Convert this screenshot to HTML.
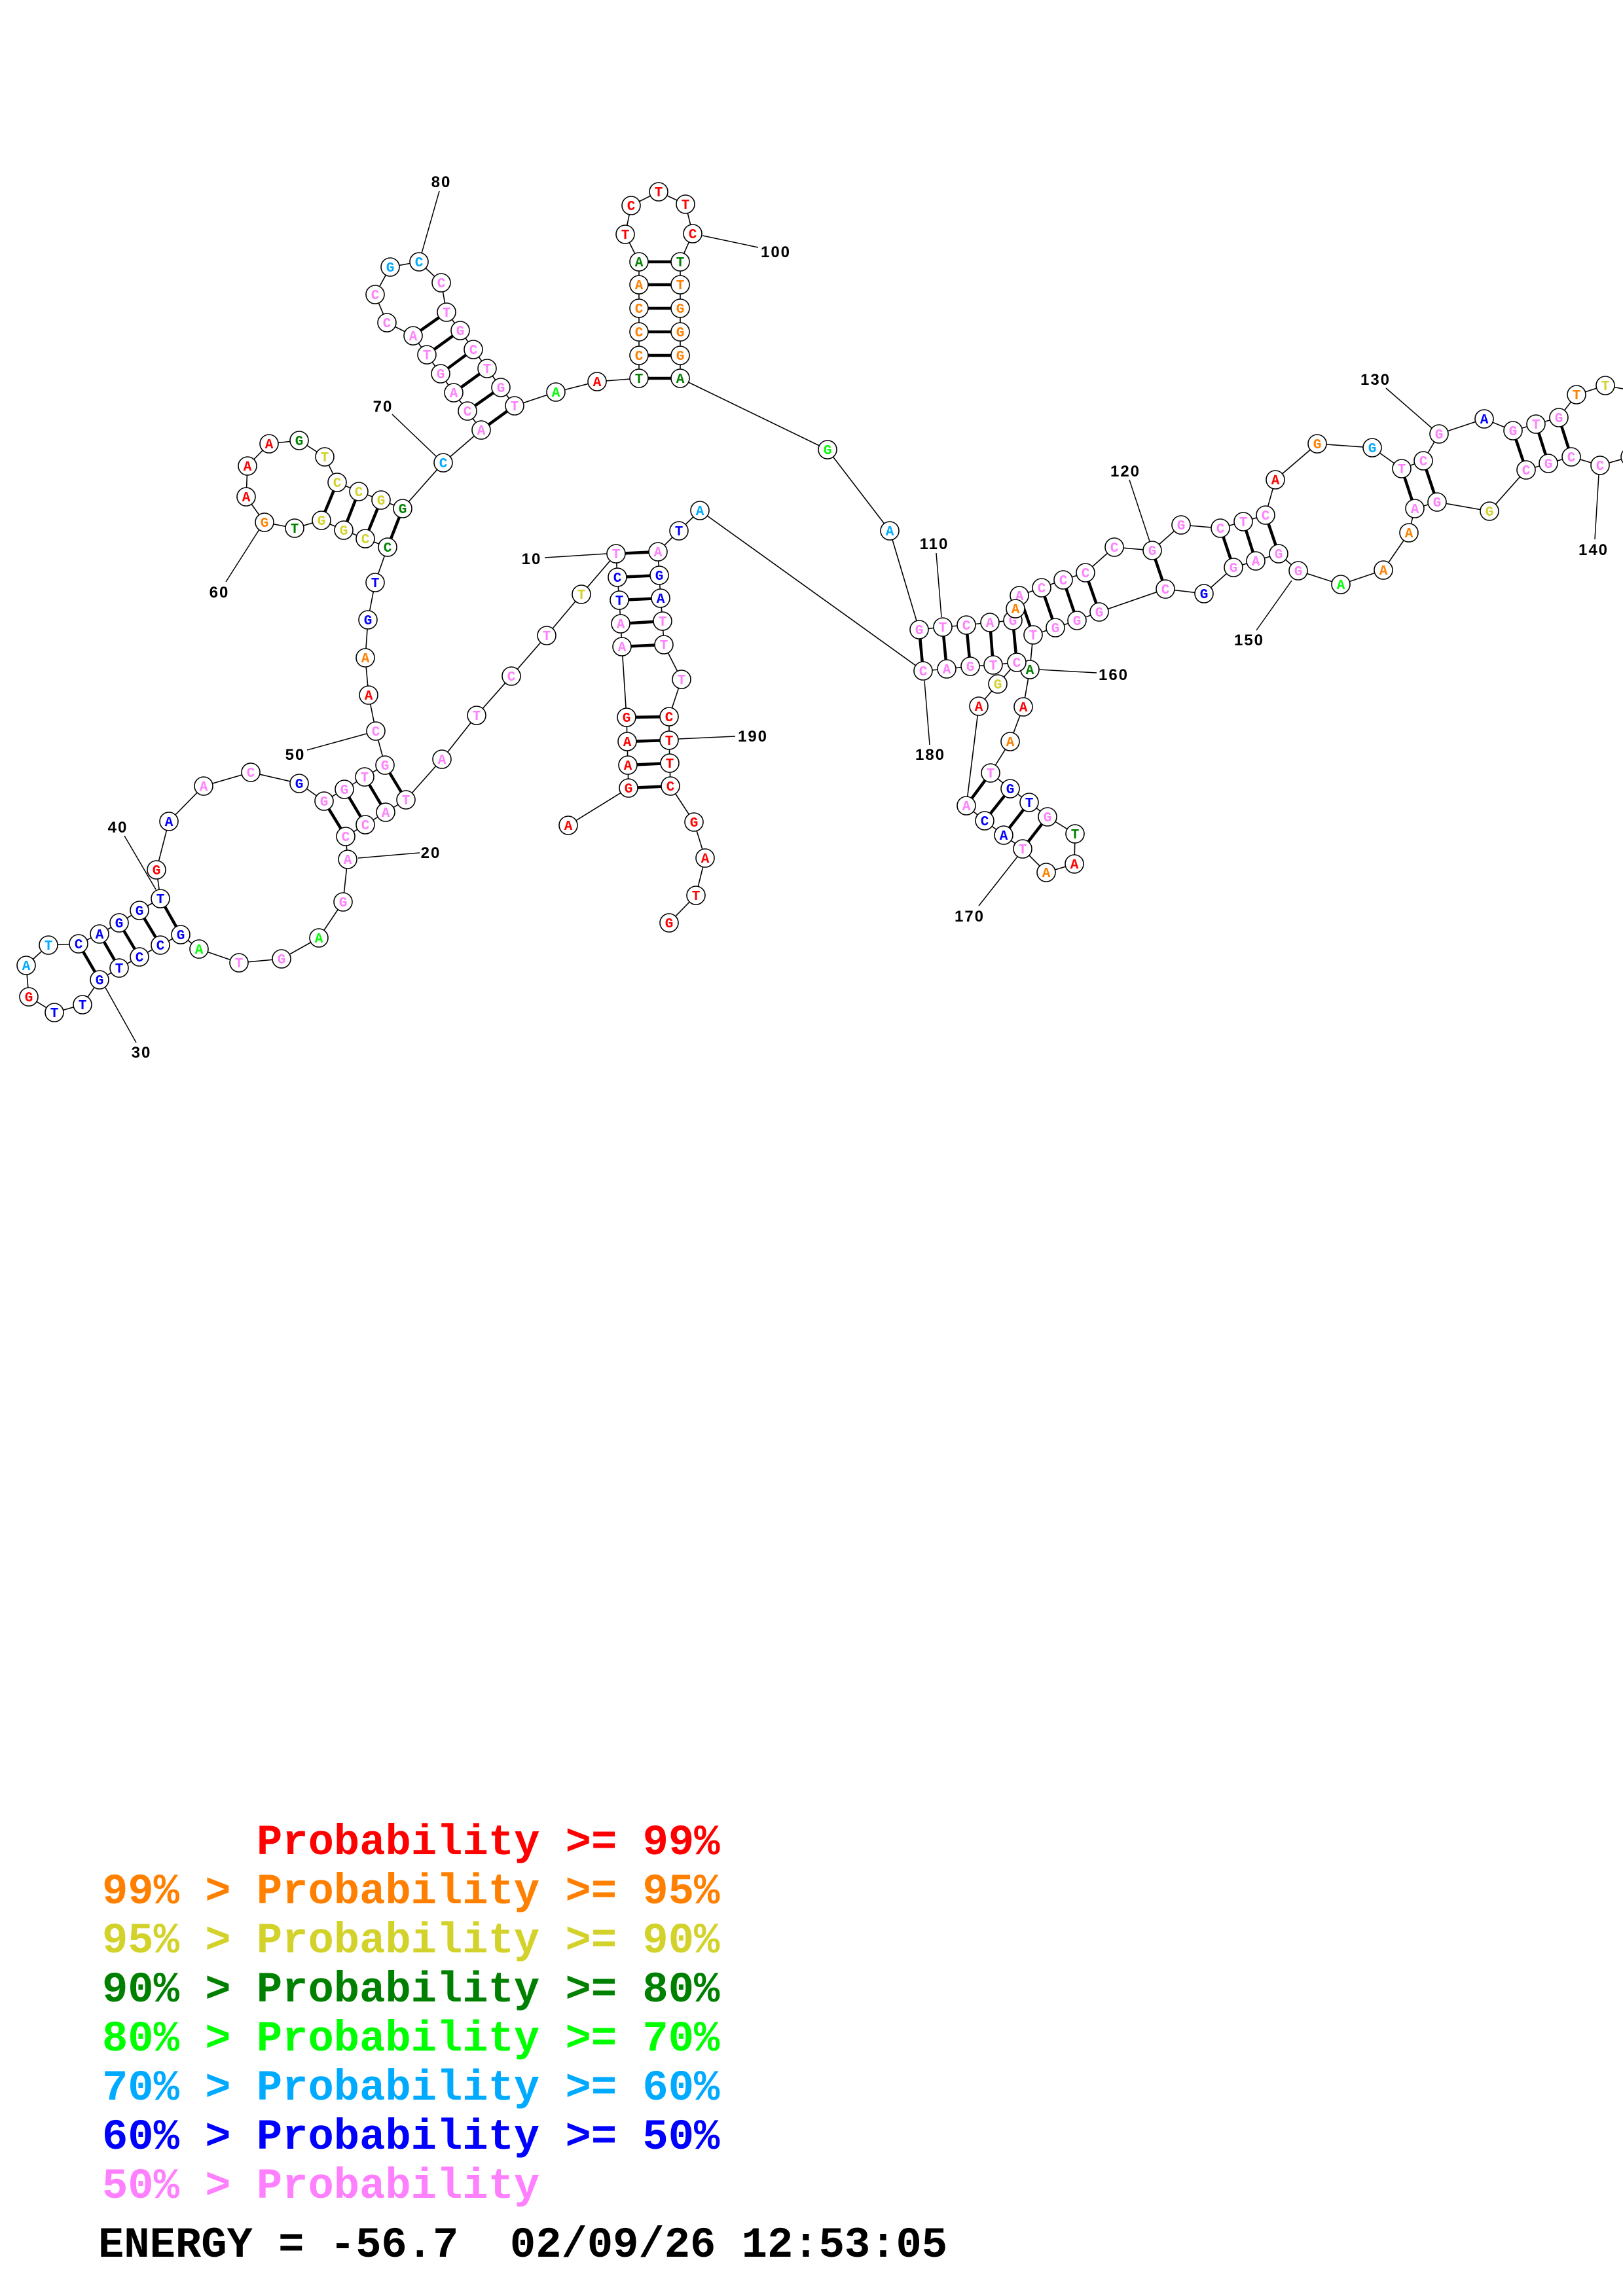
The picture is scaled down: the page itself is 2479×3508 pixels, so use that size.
<!DOCTYPE html>
<html><head><meta charset="utf-8"><style>
html,body{margin:0;padding:0;background:#fff;}
svg{display:block;}
.n circle{fill:#fff;stroke:#000;stroke-width:1.6;}
.n text{font-family:"Liberation Mono",monospace;font-weight:bold;font-size:21px;text-anchor:middle;}
.r{fill:#ff0000}.o{fill:#ff8000}.y{fill:#d2d22a}.d{fill:#008000}.g{fill:#00ff00}.c{fill:#00aaff}.b{fill:#0000ff}.p{fill:#ff80ff}
.lb{font-family:"Liberation Sans",sans-serif;font-weight:bold;font-size:24px;letter-spacing:2px;text-anchor:middle;fill:#000;}
.lg{font-family:"Liberation Mono",monospace;font-weight:bold;font-size:65.5px;white-space:pre;}
</style></head><body>
<svg width="2479" height="3508" viewBox="0 0 2479 3508" xmlns="http://www.w3.org/2000/svg">
<polyline fill="none" stroke="#000" stroke-width="1.6" points="868,1261 960,1204 959,1169 958,1133 957,1096 950,988 948,953 946,917 943,882 941,846 888,908 835,971 781,1033 728,1093 675,1160 620,1222 589,1241 558,1260 528,1278 531,1313 524,1378 487,1433 430,1465 365,1471 304,1450 276,1428 245,1444 213,1462 182,1479 152,1497 126,1535 83,1547 44,1523 40,1475 74,1444 120,1442 152,1427 182,1410 213,1391 245,1373 239,1329 258,1255 311,1201 383,1180 457,1197 495,1224 526,1206 557,1187 588,1169 574,1117 563,1062 558,1005 562,947 573,890 592,836 558,823 525,810 491,795 450,807 404,798 376,759 378,712 411,678 457,673 496,698 515,737 548,751 582,764 615,777 677,707 735,657 714,628 693,600 673,571 652,542 631,513 591,493 573,450 596,408 640,400 674,432 682,477 703,505 723,534 744,563 765,592 786,620 849,599 912,583 976,578 976,543 976,507 976,471 976,435 976,400 955,358 964,314 1006,293 1047,312 1058,357 1039,400 1039,435 1039,471 1039,507 1039,543 1039,578 1264,687 1359,811 1404,962 1440,958 1476,955 1512,951 1547,948 1551,930 1557,910 1591,898 1624,886 1658,875 1702,836 1760,841 1804,802 1864,807 1899,797 1933,787 1948,733 2012,678 2096,684 2141,716 2174,704 2198,663 2267,640 2311,658 2346,648 2381,638 2408,603 2452,589 2510,600 2520,660 2490,698 2444,711 2400,698 2365,708 2331,718 2275,781 2195,767 2161,777 2152,814 2113,871 2048,893 1983,872 1953,846 1918,857 1884,867 1839,907 1780,900 1679,935 1645,948 1612,959 1578,970 1573,1023 1563,1080 1543,1133 1513,1181 1543,1205 1572,1226 1600,1248 1642,1274 1641,1320 1598,1333 1562,1297 1533,1276 1504,1254 1476,1231 1495,1079 1524,1045 1553,1012 1517,1016 1482,1018 1446,1022 1410,1025 1069,780 1037,811 1005,843 1007,879 1009,914 1012,949 1014,985 1041,1038 1022,1095 1022,1131 1023,1166 1024,1201 1060,1256 1077,1311 1063,1368 1022,1410"/>
<g stroke="#000" stroke-width="4.5">
<line x1="941" y1="846" x2="1005" y2="843"/><line x1="943" y1="882" x2="1007" y2="879"/><line x1="946" y1="917" x2="1009" y2="914"/><line x1="948" y1="953" x2="1012" y2="949"/><line x1="950" y1="988" x2="1014" y2="985"/>
<line x1="957" y1="1096" x2="1022" y2="1095"/><line x1="958" y1="1133" x2="1022" y2="1131"/><line x1="959" y1="1169" x2="1023" y2="1166"/><line x1="960" y1="1204" x2="1024" y2="1201"/>
<line x1="276" y1="1428" x2="245" y2="1373"/><line x1="245" y1="1444" x2="213" y2="1391"/><line x1="213" y1="1462" x2="182" y2="1410"/><line x1="182" y1="1479" x2="152" y2="1427"/><line x1="152" y1="1497" x2="120" y2="1442"/>
<line x1="495" y1="1224" x2="528" y2="1278"/><line x1="526" y1="1206" x2="558" y2="1260"/><line x1="557" y1="1187" x2="589" y2="1241"/><line x1="588" y1="1169" x2="620" y2="1222"/>
<line x1="592" y1="836" x2="615" y2="777"/><line x1="558" y1="823" x2="582" y2="764"/><line x1="525" y1="810" x2="548" y2="751"/><line x1="491" y1="795" x2="515" y2="737"/>
<line x1="735" y1="657" x2="786" y2="620"/><line x1="714" y1="628" x2="765" y2="592"/><line x1="693" y1="600" x2="744" y2="563"/><line x1="673" y1="571" x2="723" y2="534"/><line x1="652" y1="542" x2="703" y2="505"/><line x1="631" y1="513" x2="682" y2="477"/>
<line x1="976" y1="578" x2="1039" y2="578"/><line x1="976" y1="543" x2="1039" y2="543"/><line x1="976" y1="507" x2="1039" y2="507"/><line x1="976" y1="471" x2="1039" y2="471"/><line x1="976" y1="435" x2="1039" y2="435"/><line x1="976" y1="400" x2="1039" y2="400"/>
<line x1="1404" y1="962" x2="1410" y2="1025"/><line x1="1440" y1="958" x2="1446" y2="1022"/><line x1="1476" y1="955" x2="1482" y2="1018"/><line x1="1512" y1="951" x2="1517" y2="1016"/><line x1="1547" y1="948" x2="1553" y2="1012"/>
<line x1="1557" y1="910" x2="1578" y2="970"/><line x1="1591" y1="898" x2="1612" y2="959"/><line x1="1624" y1="886" x2="1645" y2="948"/><line x1="1658" y1="875" x2="1679" y2="935"/>
<line x1="1760" y1="841" x2="1780" y2="900"/>
<line x1="1864" y1="807" x2="1884" y2="867"/><line x1="1899" y1="797" x2="1918" y2="857"/><line x1="1933" y1="787" x2="1953" y2="846"/>
<line x1="2141" y1="716" x2="2161" y2="777"/><line x1="2174" y1="704" x2="2195" y2="767"/>
<line x1="2311" y1="658" x2="2331" y2="718"/><line x1="2346" y1="648" x2="2365" y2="708"/><line x1="2381" y1="638" x2="2400" y2="698"/>
<line x1="1513" y1="1181" x2="1476" y2="1231"/><line x1="1543" y1="1205" x2="1504" y2="1254"/><line x1="1572" y1="1226" x2="1533" y2="1276"/><line x1="1600" y1="1248" x2="1562" y2="1297"/>
</g>
<g stroke="#000" stroke-width="1.5">
<line x1="832" y1="852" x2="927" y2="846"/><line x1="547" y1="1311" x2="641" y2="1303"/><line x1="161" y1="1509" x2="208" y2="1593"/><line x1="190" y1="1277" x2="238" y2="1359"/><line x1="469" y1="1146" x2="560" y2="1121"/><line x1="345" y1="889" x2="396" y2="809"/><line x1="599" y1="633" x2="667" y2="698"/><line x1="671" y1="292" x2="644" y2="387"/><line x1="1073" y1="360" x2="1158" y2="378"/><line x1="1430" y1="845" x2="1438" y2="943"/><line x1="1725" y1="733" x2="1756" y2="827"/><line x1="2117" y1="593" x2="2187" y2="654"/><line x1="2436" y1="824" x2="2442" y2="725"/><line x1="1919" y1="963" x2="1973" y2="887"/><line x1="1587" y1="1023" x2="1675" y2="1028"/><line x1="1495" y1="1384" x2="1554" y2="1309"/><line x1="1412" y1="1040" x2="1420" y2="1138"/><line x1="1036" y1="1129" x2="1123" y2="1125"/>
</g>
<g class="lb">
<text x="812" y="862">10</text><text x="658" y="1311">20</text><text x="216" y="1616">30</text><text x="180" y="1272">40</text><text x="451" y="1161">50</text><text x="335" y="913">60</text><text x="585" y="629">70</text><text x="674" y="286">80</text><text x="1185" y="393">100</text><text x="1427" y="839">110</text><text x="1719" y="728">120</text><text x="2101" y="588">130</text><text x="2434" y="848">140</text><text x="1908" y="986">150</text><text x="1701" y="1039">160</text><text x="1481" y="1408">170</text><text x="1421" y="1161">180</text><text x="1150" y="1133">190</text>
</g>
<g class="n">
<circle cx="868" cy="1261" r="14"/><text x="868" y="1268" class="r">A</text>
<circle cx="960" cy="1204" r="14"/><text x="960" y="1211" class="r">G</text>
<circle cx="959" cy="1169" r="14"/><text x="959" y="1176" class="r">A</text>
<circle cx="958" cy="1133" r="14"/><text x="958" y="1140" class="r">A</text>
<circle cx="957" cy="1096" r="14"/><text x="957" y="1103" class="r">G</text>
<circle cx="950" cy="988" r="14"/><text x="950" y="995" class="p">A</text>
<circle cx="948" cy="953" r="14"/><text x="948" y="960" class="p">A</text>
<circle cx="946" cy="917" r="14"/><text x="946" y="924" class="b">T</text>
<circle cx="943" cy="882" r="14"/><text x="943" y="889" class="b">C</text>
<circle cx="941" cy="846" r="14"/><text x="941" y="853" class="p">T</text>
<circle cx="888" cy="908" r="14"/><text x="888" y="915" class="y">T</text>
<circle cx="835" cy="971" r="14"/><text x="835" y="978" class="p">T</text>
<circle cx="781" cy="1033" r="14"/><text x="781" y="1040" class="p">C</text>
<circle cx="728" cy="1093" r="14"/><text x="728" y="1100" class="p">T</text>
<circle cx="675" cy="1160" r="14"/><text x="675" y="1167" class="p">A</text>
<circle cx="620" cy="1222" r="14"/><text x="620" y="1229" class="p">T</text>
<circle cx="589" cy="1241" r="14"/><text x="589" y="1248" class="p">A</text>
<circle cx="558" cy="1260" r="14"/><text x="558" y="1267" class="p">C</text>
<circle cx="528" cy="1278" r="14"/><text x="528" y="1285" class="p">C</text>
<circle cx="531" cy="1313" r="14"/><text x="531" y="1320" class="p">A</text>
<circle cx="524" cy="1378" r="14"/><text x="524" y="1385" class="p">G</text>
<circle cx="487" cy="1433" r="14"/><text x="487" y="1440" class="g">A</text>
<circle cx="430" cy="1465" r="14"/><text x="430" y="1472" class="p">G</text>
<circle cx="365" cy="1471" r="14"/><text x="365" y="1478" class="p">T</text>
<circle cx="304" cy="1450" r="14"/><text x="304" y="1457" class="g">A</text>
<circle cx="276" cy="1428" r="14"/><text x="276" y="1435" class="b">G</text>
<circle cx="245" cy="1444" r="14"/><text x="245" y="1451" class="b">C</text>
<circle cx="213" cy="1462" r="14"/><text x="213" y="1469" class="b">C</text>
<circle cx="182" cy="1479" r="14"/><text x="182" y="1486" class="b">T</text>
<circle cx="152" cy="1497" r="14"/><text x="152" y="1504" class="b">G</text>
<circle cx="126" cy="1535" r="14"/><text x="126" y="1542" class="b">T</text>
<circle cx="83" cy="1547" r="14"/><text x="83" y="1554" class="b">T</text>
<circle cx="44" cy="1523" r="14"/><text x="44" y="1530" class="r">G</text>
<circle cx="40" cy="1475" r="14"/><text x="40" y="1482" class="c">A</text>
<circle cx="74" cy="1444" r="14"/><text x="74" y="1451" class="c">T</text>
<circle cx="120" cy="1442" r="14"/><text x="120" y="1449" class="b">C</text>
<circle cx="152" cy="1427" r="14"/><text x="152" y="1434" class="b">A</text>
<circle cx="182" cy="1410" r="14"/><text x="182" y="1417" class="b">G</text>
<circle cx="213" cy="1391" r="14"/><text x="213" y="1398" class="b">G</text>
<circle cx="245" cy="1373" r="14"/><text x="245" y="1380" class="b">T</text>
<circle cx="239" cy="1329" r="14"/><text x="239" y="1336" class="r">G</text>
<circle cx="258" cy="1255" r="14"/><text x="258" y="1262" class="b">A</text>
<circle cx="311" cy="1201" r="14"/><text x="311" y="1208" class="p">A</text>
<circle cx="383" cy="1180" r="14"/><text x="383" y="1187" class="p">C</text>
<circle cx="457" cy="1197" r="14"/><text x="457" y="1204" class="b">G</text>
<circle cx="495" cy="1224" r="14"/><text x="495" y="1231" class="p">G</text>
<circle cx="526" cy="1206" r="14"/><text x="526" y="1213" class="p">G</text>
<circle cx="557" cy="1187" r="14"/><text x="557" y="1194" class="p">T</text>
<circle cx="588" cy="1169" r="14"/><text x="588" y="1176" class="p">G</text>
<circle cx="574" cy="1117" r="14"/><text x="574" y="1124" class="p">C</text>
<circle cx="563" cy="1062" r="14"/><text x="563" y="1069" class="r">A</text>
<circle cx="558" cy="1005" r="14"/><text x="558" y="1012" class="o">A</text>
<circle cx="562" cy="947" r="14"/><text x="562" y="954" class="b">G</text>
<circle cx="573" cy="890" r="14"/><text x="573" y="897" class="b">T</text>
<circle cx="592" cy="836" r="14"/><text x="592" y="843" class="d">C</text>
<circle cx="558" cy="823" r="14"/><text x="558" y="830" class="y">C</text>
<circle cx="525" cy="810" r="14"/><text x="525" y="817" class="y">G</text>
<circle cx="491" cy="795" r="14"/><text x="491" y="802" class="y">G</text>
<circle cx="450" cy="807" r="14"/><text x="450" y="814" class="d">T</text>
<circle cx="404" cy="798" r="14"/><text x="404" y="805" class="o">G</text>
<circle cx="376" cy="759" r="14"/><text x="376" y="766" class="r">A</text>
<circle cx="378" cy="712" r="14"/><text x="378" y="719" class="r">A</text>
<circle cx="411" cy="678" r="14"/><text x="411" y="685" class="r">A</text>
<circle cx="457" cy="673" r="14"/><text x="457" y="680" class="d">G</text>
<circle cx="496" cy="698" r="14"/><text x="496" y="705" class="y">T</text>
<circle cx="515" cy="737" r="14"/><text x="515" y="744" class="y">C</text>
<circle cx="548" cy="751" r="14"/><text x="548" y="758" class="y">C</text>
<circle cx="582" cy="764" r="14"/><text x="582" y="771" class="y">G</text>
<circle cx="615" cy="777" r="14"/><text x="615" y="784" class="d">G</text>
<circle cx="677" cy="707" r="14"/><text x="677" y="714" class="c">C</text>
<circle cx="735" cy="657" r="14"/><text x="735" y="664" class="p">A</text>
<circle cx="714" cy="628" r="14"/><text x="714" y="635" class="p">C</text>
<circle cx="693" cy="600" r="14"/><text x="693" y="607" class="p">A</text>
<circle cx="673" cy="571" r="14"/><text x="673" y="578" class="p">G</text>
<circle cx="652" cy="542" r="14"/><text x="652" y="549" class="p">T</text>
<circle cx="631" cy="513" r="14"/><text x="631" y="520" class="p">A</text>
<circle cx="591" cy="493" r="14"/><text x="591" y="500" class="p">C</text>
<circle cx="573" cy="450" r="14"/><text x="573" y="457" class="p">C</text>
<circle cx="596" cy="408" r="14"/><text x="596" y="415" class="c">G</text>
<circle cx="640" cy="400" r="14"/><text x="640" y="407" class="c">C</text>
<circle cx="674" cy="432" r="14"/><text x="674" y="439" class="p">C</text>
<circle cx="682" cy="477" r="14"/><text x="682" y="484" class="p">T</text>
<circle cx="703" cy="505" r="14"/><text x="703" y="512" class="p">G</text>
<circle cx="723" cy="534" r="14"/><text x="723" y="541" class="p">C</text>
<circle cx="744" cy="563" r="14"/><text x="744" y="570" class="p">T</text>
<circle cx="765" cy="592" r="14"/><text x="765" y="599" class="p">G</text>
<circle cx="786" cy="620" r="14"/><text x="786" y="627" class="p">T</text>
<circle cx="849" cy="599" r="14"/><text x="849" y="606" class="g">A</text>
<circle cx="912" cy="583" r="14"/><text x="912" y="590" class="r">A</text>
<circle cx="976" cy="578" r="14"/><text x="976" y="585" class="d">T</text>
<circle cx="976" cy="543" r="14"/><text x="976" y="550" class="o">C</text>
<circle cx="976" cy="507" r="14"/><text x="976" y="514" class="o">C</text>
<circle cx="976" cy="471" r="14"/><text x="976" y="478" class="o">C</text>
<circle cx="976" cy="435" r="14"/><text x="976" y="442" class="o">A</text>
<circle cx="976" cy="400" r="14"/><text x="976" y="407" class="d">A</text>
<circle cx="955" cy="358" r="14"/><text x="955" y="365" class="r">T</text>
<circle cx="964" cy="314" r="14"/><text x="964" y="321" class="r">C</text>
<circle cx="1006" cy="293" r="14"/><text x="1006" y="300" class="r">T</text>
<circle cx="1047" cy="312" r="14"/><text x="1047" y="319" class="r">T</text>
<circle cx="1058" cy="357" r="14"/><text x="1058" y="364" class="r">C</text>
<circle cx="1039" cy="400" r="14"/><text x="1039" y="407" class="d">T</text>
<circle cx="1039" cy="435" r="14"/><text x="1039" y="442" class="o">T</text>
<circle cx="1039" cy="471" r="14"/><text x="1039" y="478" class="o">G</text>
<circle cx="1039" cy="507" r="14"/><text x="1039" y="514" class="o">G</text>
<circle cx="1039" cy="543" r="14"/><text x="1039" y="550" class="o">G</text>
<circle cx="1039" cy="578" r="14"/><text x="1039" y="585" class="d">A</text>
<circle cx="1264" cy="687" r="14"/><text x="1264" y="694" class="g">G</text>
<circle cx="1359" cy="811" r="14"/><text x="1359" y="818" class="c">A</text>
<circle cx="1404" cy="962" r="14"/><text x="1404" y="969" class="p">G</text>
<circle cx="1440" cy="958" r="14"/><text x="1440" y="965" class="p">T</text>
<circle cx="1476" cy="955" r="14"/><text x="1476" y="962" class="p">C</text>
<circle cx="1512" cy="951" r="14"/><text x="1512" y="958" class="p">A</text>
<circle cx="1547" cy="948" r="14"/><text x="1547" y="955" class="p">G</text>
<circle cx="1557" cy="910" r="14"/><text x="1557" y="917" class="p">A</text>
<circle cx="1551" cy="930" r="14"/><text x="1551" y="937" class="o">A</text>
<circle cx="1591" cy="898" r="14"/><text x="1591" y="905" class="p">C</text>
<circle cx="1624" cy="886" r="14"/><text x="1624" y="893" class="p">C</text>
<circle cx="1658" cy="875" r="14"/><text x="1658" y="882" class="p">C</text>
<circle cx="1702" cy="836" r="14"/><text x="1702" y="843" class="p">C</text>
<circle cx="1760" cy="841" r="14"/><text x="1760" y="848" class="p">G</text>
<circle cx="1804" cy="802" r="14"/><text x="1804" y="809" class="p">G</text>
<circle cx="1864" cy="807" r="14"/><text x="1864" y="814" class="p">C</text>
<circle cx="1899" cy="797" r="14"/><text x="1899" y="804" class="p">T</text>
<circle cx="1933" cy="787" r="14"/><text x="1933" y="794" class="p">C</text>
<circle cx="1948" cy="733" r="14"/><text x="1948" y="740" class="r">A</text>
<circle cx="2012" cy="678" r="14"/><text x="2012" y="685" class="o">G</text>
<circle cx="2096" cy="684" r="14"/><text x="2096" y="691" class="c">G</text>
<circle cx="2141" cy="716" r="14"/><text x="2141" y="723" class="p">T</text>
<circle cx="2174" cy="704" r="14"/><text x="2174" y="711" class="p">C</text>
<circle cx="2198" cy="663" r="14"/><text x="2198" y="670" class="p">G</text>
<circle cx="2267" cy="640" r="14"/><text x="2267" y="647" class="b">A</text>
<circle cx="2311" cy="658" r="14"/><text x="2311" y="665" class="p">G</text>
<circle cx="2346" cy="648" r="14"/><text x="2346" y="655" class="p">T</text>
<circle cx="2381" cy="638" r="14"/><text x="2381" y="645" class="p">G</text>
<circle cx="2408" cy="603" r="14"/><text x="2408" y="610" class="o">T</text>
<circle cx="2452" cy="589" r="14"/><text x="2452" y="596" class="y">T</text>
<circle cx="2490" cy="698" r="14"/><text x="2490" y="705" class="p">C</text>
<circle cx="2444" cy="711" r="14"/><text x="2444" y="718" class="p">C</text>
<circle cx="2400" cy="698" r="14"/><text x="2400" y="705" class="p">C</text>
<circle cx="2365" cy="708" r="14"/><text x="2365" y="715" class="p">G</text>
<circle cx="2331" cy="718" r="14"/><text x="2331" y="725" class="p">C</text>
<circle cx="2275" cy="781" r="14"/><text x="2275" y="788" class="y">G</text>
<circle cx="2195" cy="767" r="14"/><text x="2195" y="774" class="p">G</text>
<circle cx="2161" cy="777" r="14"/><text x="2161" y="784" class="p">A</text>
<circle cx="2152" cy="814" r="14"/><text x="2152" y="821" class="o">A</text>
<circle cx="2113" cy="871" r="14"/><text x="2113" y="878" class="o">A</text>
<circle cx="2048" cy="893" r="14"/><text x="2048" y="900" class="g">A</text>
<circle cx="1983" cy="872" r="14"/><text x="1983" y="879" class="p">G</text>
<circle cx="1953" cy="846" r="14"/><text x="1953" y="853" class="p">G</text>
<circle cx="1918" cy="857" r="14"/><text x="1918" y="864" class="p">A</text>
<circle cx="1884" cy="867" r="14"/><text x="1884" y="874" class="p">G</text>
<circle cx="1839" cy="907" r="14"/><text x="1839" y="914" class="b">G</text>
<circle cx="1780" cy="900" r="14"/><text x="1780" y="907" class="p">C</text>
<circle cx="1679" cy="935" r="14"/><text x="1679" y="942" class="p">G</text>
<circle cx="1645" cy="948" r="14"/><text x="1645" y="955" class="p">G</text>
<circle cx="1612" cy="959" r="14"/><text x="1612" y="966" class="p">G</text>
<circle cx="1578" cy="970" r="14"/><text x="1578" y="977" class="p">T</text>
<circle cx="1573" cy="1023" r="14"/><text x="1573" y="1030" class="d">A</text>
<circle cx="1563" cy="1080" r="14"/><text x="1563" y="1087" class="r">A</text>
<circle cx="1543" cy="1133" r="14"/><text x="1543" y="1140" class="o">A</text>
<circle cx="1513" cy="1181" r="14"/><text x="1513" y="1188" class="p">T</text>
<circle cx="1543" cy="1205" r="14"/><text x="1543" y="1212" class="b">G</text>
<circle cx="1572" cy="1226" r="14"/><text x="1572" y="1233" class="b">T</text>
<circle cx="1600" cy="1248" r="14"/><text x="1600" y="1255" class="p">G</text>
<circle cx="1642" cy="1274" r="14"/><text x="1642" y="1281" class="d">T</text>
<circle cx="1641" cy="1320" r="14"/><text x="1641" y="1327" class="r">A</text>
<circle cx="1598" cy="1333" r="14"/><text x="1598" y="1340" class="o">A</text>
<circle cx="1562" cy="1297" r="14"/><text x="1562" y="1304" class="p">T</text>
<circle cx="1533" cy="1276" r="14"/><text x="1533" y="1283" class="b">A</text>
<circle cx="1504" cy="1254" r="14"/><text x="1504" y="1261" class="b">C</text>
<circle cx="1476" cy="1231" r="14"/><text x="1476" y="1238" class="p">A</text>
<circle cx="1495" cy="1079" r="14"/><text x="1495" y="1086" class="r">A</text>
<circle cx="1524" cy="1045" r="14"/><text x="1524" y="1052" class="y">G</text>
<circle cx="1553" cy="1012" r="14"/><text x="1553" y="1019" class="p">C</text>
<circle cx="1517" cy="1016" r="14"/><text x="1517" y="1023" class="p">T</text>
<circle cx="1482" cy="1018" r="14"/><text x="1482" y="1025" class="p">G</text>
<circle cx="1446" cy="1022" r="14"/><text x="1446" y="1029" class="p">A</text>
<circle cx="1410" cy="1025" r="14"/><text x="1410" y="1032" class="p">C</text>
<circle cx="1069" cy="780" r="14"/><text x="1069" y="787" class="c">A</text>
<circle cx="1037" cy="811" r="14"/><text x="1037" y="818" class="b">T</text>
<circle cx="1005" cy="843" r="14"/><text x="1005" y="850" class="p">A</text>
<circle cx="1007" cy="879" r="14"/><text x="1007" y="886" class="b">G</text>
<circle cx="1009" cy="914" r="14"/><text x="1009" y="921" class="b">A</text>
<circle cx="1012" cy="949" r="14"/><text x="1012" y="956" class="p">T</text>
<circle cx="1014" cy="985" r="14"/><text x="1014" y="992" class="p">T</text>
<circle cx="1041" cy="1038" r="14"/><text x="1041" y="1045" class="p">T</text>
<circle cx="1022" cy="1095" r="14"/><text x="1022" y="1102" class="r">C</text>
<circle cx="1022" cy="1131" r="14"/><text x="1022" y="1138" class="r">T</text>
<circle cx="1023" cy="1166" r="14"/><text x="1023" y="1173" class="r">T</text>
<circle cx="1024" cy="1201" r="14"/><text x="1024" y="1208" class="r">C</text>
<circle cx="1060" cy="1256" r="14"/><text x="1060" y="1263" class="r">G</text>
<circle cx="1077" cy="1311" r="14"/><text x="1077" y="1318" class="r">A</text>
<circle cx="1063" cy="1368" r="14"/><text x="1063" y="1375" class="r">T</text>
<circle cx="1022" cy="1410" r="14"/><text x="1022" y="1417" class="r">G</text>
</g>
<g class="lg">
<text x="392" y="2833" fill="#ff0000">Probability &gt;= 99%</text>
<text x="156" y="2908" fill="#ff8000">99% &gt; Probability &gt;= 95%</text>
<text x="156" y="2983" fill="#d2d22a">95% &gt; Probability &gt;= 90%</text>
<text x="156" y="3058" fill="#008000">90% &gt; Probability &gt;= 80%</text>
<text x="156" y="3133" fill="#00ff00">80% &gt; Probability &gt;= 70%</text>
<text x="156" y="3208" fill="#00aaff">70% &gt; Probability &gt;= 60%</text>
<text x="156" y="3283" fill="#0000ff">60% &gt; Probability &gt;= 50%</text>
<text x="156" y="3358" fill="#ff80ff">50% &gt; Probability</text>
<text x="150" y="3448" fill="#000">ENERGY = -56.7&#160;&#160;02/09/26 12:53:05</text>
</g>
</svg>
</body></html>
